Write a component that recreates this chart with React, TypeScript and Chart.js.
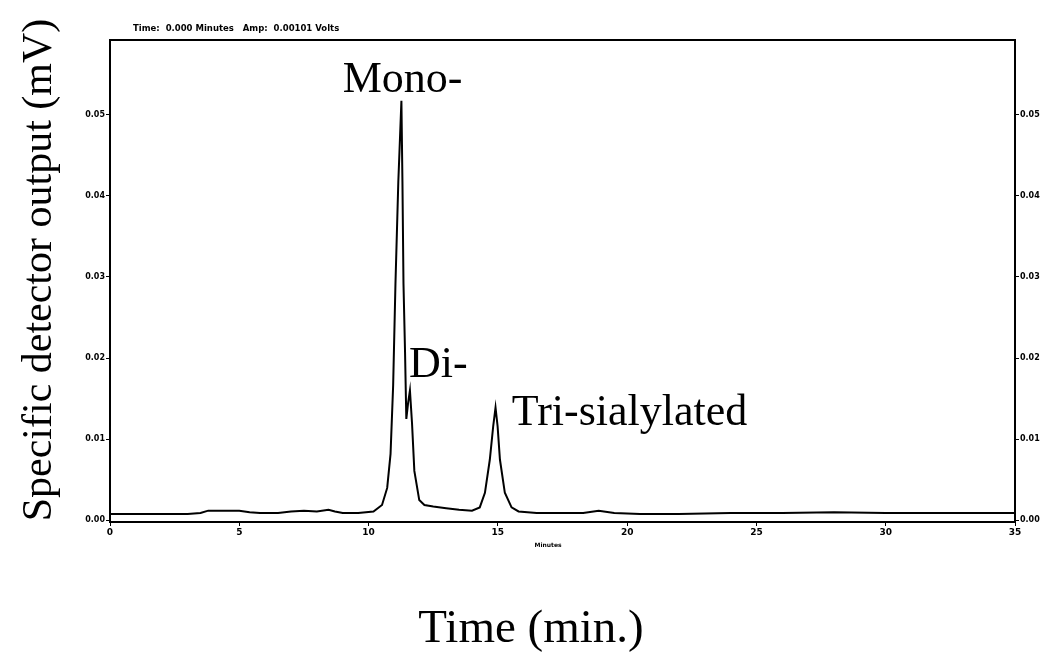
import React, { useEffect, useRef } from "react";
import { Chart, registerables } from "chart.js";

Chart.register(...registerables);

// Retention time (minutes)
const timeMin = [
  0, 1, 2, 3, 3.5, 3.8, 4.3, 5.0, 5.4, 5.8, 6.5, 7.0, 7.5, 8.0, 8.45, 8.7, 9.0, 9.6, 10.19, 10.52,
  10.72, 10.85, 10.95, 11.04, 11.15, 11.27, 11.31, 11.35, 11.41, 11.46, 11.53, 11.6, 11.68, 11.77, 11.96, 12.16,
  12.5, 13.0, 13.5, 14.0, 14.3, 14.5, 14.69, 14.82, 14.91, 14.99, 15.08, 15.27, 15.53, 15.8, 16.5, 17.5,
  18.3, 18.9, 19.5, 20.5, 22, 24, 26, 28, 30, 32, 35,
];
// Detector output (V)
const signal = [
  0.0008, 0.0008, 0.0008, 0.0008, 0.0009, 0.0012, 0.0012, 0.0012, 0.0010, 0.0009, 0.0009, 0.0011, 0.0012, 0.0011, 0.0013, 0.0011, 0.0009, 0.0009, 0.0011, 0.0019,
  0.0040, 0.0082, 0.0166, 0.0292, 0.0417, 0.0517, 0.0417, 0.0292, 0.0208, 0.0125, 0.0145, 0.0160, 0.0120, 0.0061, 0.0025, 0.0019,
  0.0017, 0.0015, 0.0013, 0.0012, 0.0016, 0.0034, 0.0075, 0.0116, 0.0139, 0.0116, 0.0075, 0.0034, 0.0016, 0.0011, 0.0009, 0.0009,
  0.0009, 0.0012, 0.0009, 0.0008, 0.0008, 0.0009, 0.0009, 0.0010, 0.0009, 0.0009, 0.0009,
];

const xTicks = [0, 5, 10, 15, 20, 25, 30, 35];
const yTicks = [0, 0.01, 0.02, 0.03, 0.04, 0.05];

const peakLabels = ["Mono-", "Di-", "Tri-sialylated"];
const peakLabelX = [9.0, 11.56, 15.54];
const peakLabelY = [0.0528, 0.0177, 0.0118];

const headerText = "Time:  0.000 Minutes   Amp:  0.00101 Volts";
const xUnitText = "Minutes";
const xTitle = "Time (min.)";
const yTitle = "Specific detector output (mV)";

const SERIF = '"Liberation Serif", "Times New Roman", serif';
const SANS = '"DejaVu Sans", sans-serif';

const overlay = {
  id: "overlay",
  afterDraw(chart: any) {
    const { ctx, chartArea, scales } = chart;
    ctx.save();
    ctx.strokeStyle = "#000";
    ctx.lineWidth = 2;
    ctx.strokeRect(chartArea.left, chartArea.top, chartArea.right - chartArea.left, chartArea.bottom - chartArea.top);

    ctx.fillStyle = "#000";
    ctx.textBaseline = "alphabetic";
    ctx.textAlign = "left";
    ctx.font = `44px ${SERIF}`;
    peakLabels.forEach((t, i) => {
      ctx.fillText(t, scales.x.getPixelForValue(peakLabelX[i]), scales.y.getPixelForValue(peakLabelY[i]));
    });

    ctx.font = `bold 8.5px ${SANS}`;
    ctx.fillText(headerText, chartArea.left + 23, chartArea.top - 9);

    ctx.textAlign = "center";
    ctx.font = `bold 6px ${SANS}`;
    ctx.fillText(xUnitText, 548, chartArea.bottom + 25);

    ctx.font = `47px ${SERIF}`;
    ctx.textBaseline = "middle";
    ctx.fillText(xTitle, 531, 630);

    ctx.save();
    ctx.translate(40, 270);
    ctx.rotate(-Math.PI / 2);
    ctx.font = `42px ${SERIF}`;
    ctx.fillText(yTitle, 0, 0);
    ctx.restore();

    ctx.restore();
  },
};

export default function App() {
  const ref = useRef<HTMLCanvasElement | null>(null);
  useEffect(() => {
    if (!ref.current) return;
    const yTickSetter = (s: any) => {
      s.ticks = yTicks.map((v) => ({ value: v }));
    };
    const tickFont = { family: SANS, weight: "bold" as const, size: 8 };
    const chart = new Chart(ref.current, {
      type: "line",
      data: {
        datasets: [
          {
            data: timeMin.map((t, i) => ({ x: t, y: signal[i] })),
            borderColor: "#000",
            borderWidth: 2,
            pointRadius: 0,
            tension: 0,
            fill: false,
          },
        ],
      },
      options: {
        responsive: false,
        animation: false,
        devicePixelRatio: 1,
        layout: { padding: { top: 40, left: 0, right: 0, bottom: 0 } },
        plugins: { legend: { display: false }, tooltip: { enabled: false }, title: { display: false } },
        scales: {
          x: {
            type: "linear",
            position: "bottom",
            min: 0,
            max: 35,
            afterFit: (s: any) => {
              s.height = 669 - 522;
            },
            afterBuildTicks: (s: any) => {
              s.ticks = xTicks.map((v) => ({ value: v }));
            },
            ticks: { color: "#000", font: { ...tickFont, size: 9 }, padding: 1, maxRotation: 0, autoSkip: false },
            grid: { drawOnChartArea: false, tickLength: 4, color: "#000" },
            border: { color: "#000", width: 2 },
          },
          y: {
            type: "linear",
            position: "left",
            min: -0.0002,
            max: 0.0592,
            afterFit: (s: any) => {
              s.width = 110;
            },
            afterBuildTicks: yTickSetter,
            ticks: { color: "#000", font: tickFont, padding: 1, callback: (v: any) => Number(v).toFixed(2) },
            grid: { drawOnChartArea: false, tickLength: 4, color: "#000" },
            border: { color: "#000", width: 2 },
          },
          y2: {
            type: "linear",
            position: "right",
            display: true,
            min: -0.0002,
            max: 0.0592,
            afterFit: (s: any) => {
              s.width = 1064 - 1015;
            },
            afterBuildTicks: yTickSetter,
            ticks: { color: "#000", font: tickFont, padding: 1, callback: (v: any) => Number(v).toFixed(2) },
            grid: { drawOnChartArea: false, tickLength: 4, color: "#000" },
            border: { color: "#000", width: 2 },
          },
        },
      },
      plugins: [overlay],
    });
    return () => chart.destroy();
  }, []);
  return (
    <div style={{ position: "absolute", left: 0, top: 0, width: 1064, height: 669, background: "#fff" }}>
      <canvas ref={ref} width={1064} height={669} style={{ display: "block" }} />
    </div>
  );
}
